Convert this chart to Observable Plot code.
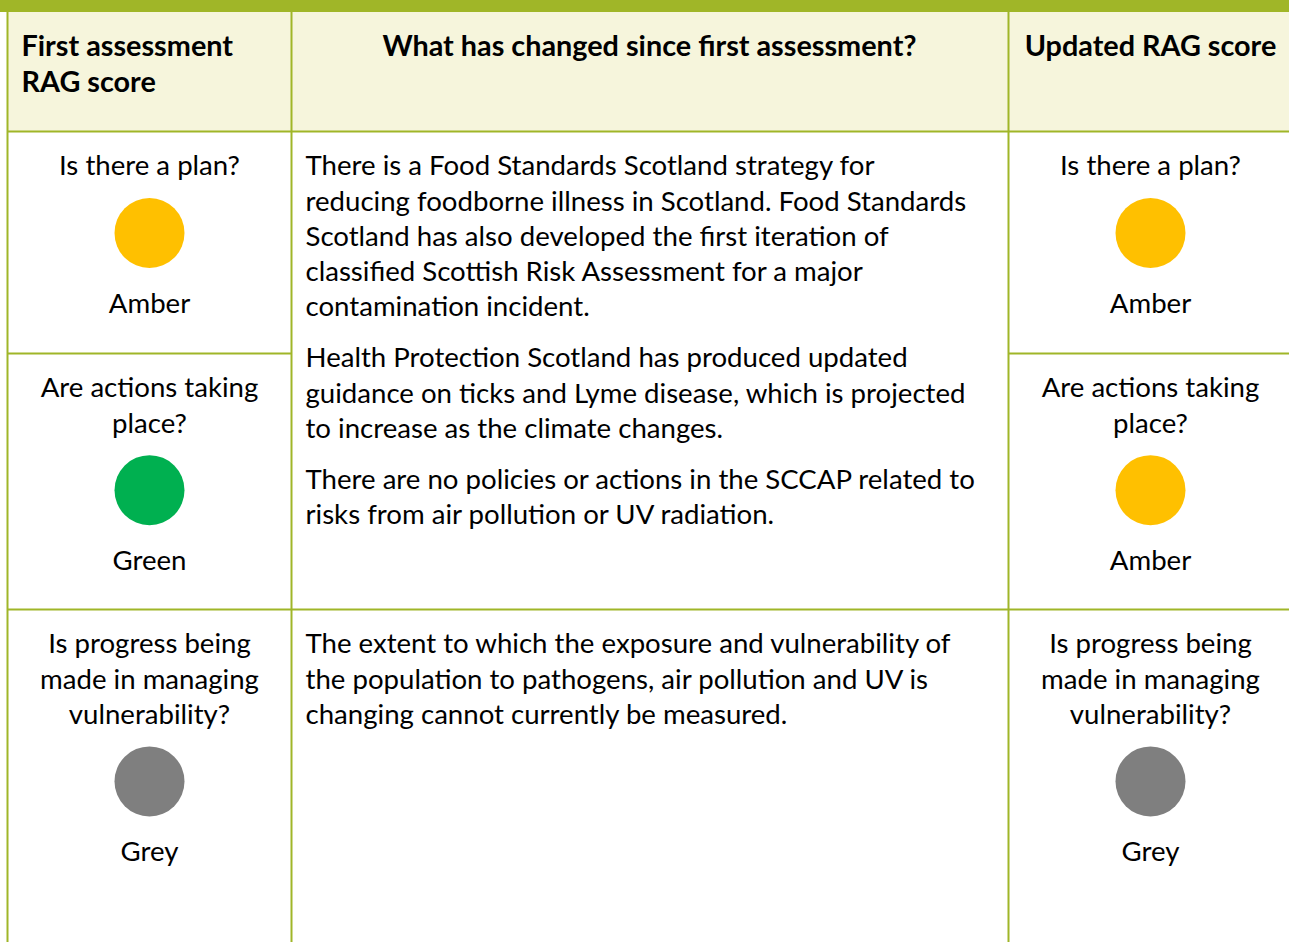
<!DOCTYPE html>
<html><head><meta charset="utf-8">
<script src="https://cdn.jsdelivr.net/npm/d3@7"></script>
<script src="https://cdn.jsdelivr.net/npm/@observablehq/plot@0.6"></script>
<style>body{margin:0;background:#fff}#chart svg{display:block}</style>
</head><body><div id="chart"></div>
<script>
// ---- data ----
const headers = ["First assessment\nRAG score", "What has changed since first assessment?", "Updated RAG score"];
const questions = ["Is there a plan?", "Are actions taking\nplace?", "Is progress being\nmade in managing\nvulnerability?"];
const firstScores = ["Amber", "Green", "Grey"];
const updatedScores = ["Amber", "Amber", "Grey"];
const changesGroup1 = [
  "There is a Food Standards Scotland strategy for\nreducing foodborne illness in Scotland. Food Standards\nScotland has also developed the first iteration of\nclassified Scottish Risk Assessment for a major\ncontamination incident.",
  "Health Protection Scotland has produced updated\nguidance on ticks and Lyme disease, which is projected\nto increase as the climate changes.",
  "There are no policies or actions in the SCCAP related to\nrisks from air pollution or UV radiation."
];
const changesGroup2 = [
  "The extent to which the exposure and vulnerability of\nthe population to pathogens, air pollution and UV is\nchanging cannot currently be measured."
];
const ragColors = {Amber: "#ffc000", Green: "#00b050", Grey: "#7f7f7f"};

// ---- layout ----
const W = 1289, H = 942;
const green = "#a0b628", headerFill = "#f6f5dc";
const colEdges = [7, 291, 1008, 1292];
const rowEdges = [12, 131, 353, 609, H];
const font = "Lato, 'Open Sans', sans-serif";
const fs = 27.6, fsHead = 28.8, lineStep = 35.2, paraGap = 16, topPad = 35;

const leftX = 149;
const rightX = 1150;
const midX = colEdges[1] + 14;

// score cells
const scoreText = [], scoreDots = [];
questions.forEach((q, i) => {
  const top = rowEdges[i + 1];
  const lines = q.split("\n");
  lines.forEach((l, j) => {
    scoreText.push({x: leftX, y: top + topPad + j * lineStep, t: l});
    scoreText.push({x: rightX, y: top + topPad + j * lineStep, t: l});
  });
  const cy = top + topPad + (lines.length - 1) * lineStep + 66.5;
  scoreDots.push({x: leftX, y: cy, c: ragColors[firstScores[i]]});
  scoreDots.push({x: rightX, y: cy, c: ragColors[updatedScores[i]]});
  scoreText.push({x: leftX, y: cy + 71, t: firstScores[i]});
  scoreText.push({x: rightX, y: cy + 71, t: updatedScores[i]});
});

// change text
const midText = [];
[[changesGroup1, rowEdges[1]], [changesGroup2, rowEdges[3]]].forEach(([paras, top]) => {
  let y = top + topPad;
  paras.forEach(p => {
    p.split("\n").forEach(l => { midText.push({x: midX, y, t: l}); y += lineStep; });
    y += paraGap;
  });
});

// header text
const headText = [];
headers[0].split("\n").forEach((l, j) => headText.push({x: colEdges[0] + 14, y: 46 + j * 36, t: l, a: "start"}));
headText.push({x: 649, y: 46, t: headers[1], a: "middle"});
headText.push({x: rightX, y: 46, t: headers[2], a: "middle"});

const vLines = [
  {x: colEdges[0], y1: 0, y2: H},
  {x: colEdges[1], y1: rowEdges[0], y2: H},
  {x: colEdges[2], y1: rowEdges[0], y2: H}
];
const hLines = [
  {y: rowEdges[1], x1: colEdges[0], x2: W},
  {y: rowEdges[2], x1: colEdges[0], x2: colEdges[1]},
  {y: rowEdges[2], x1: colEdges[2], x2: W},
  {y: rowEdges[3], x1: colEdges[0], x2: W}
];

const chart = Plot.plot({
  width: W, height: H,
  margin: 0,
  x: {domain: [0, W], range: [0, W], axis: null},
  y: {domain: [0, H], range: [0, H], axis: null},
  style: {fontFamily: font, background: "#fff"},
  marks: [
    Plot.rect([{x1: colEdges[0], x2: W, y1: rowEdges[0], y2: rowEdges[1]}], {x1: "x1", x2: "x2", y1: "y1", y2: "y2", fill: headerFill}),
    Plot.rect([{x1: 0, x2: W, y1: 0, y2: rowEdges[0]}], {x1: "x1", x2: "x2", y1: "y1", y2: "y2", fill: green}),
    Plot.ruleX(vLines, {x: "x", y1: "y1", y2: "y2", stroke: green, strokeWidth: 2}),
    Plot.ruleY(hLines, {y: "y", x1: "x1", x2: "x2", stroke: green, strokeWidth: 2}),
    Plot.dot(scoreDots, {x: "x", y: "y", r: 35, fill: d => d.c, stroke: null}),
    Plot.text(scoreText, {x: "x", y: "y", text: "t", fontSize: fs, fill: "#000", textAnchor: "middle"}),
    Plot.text(midText, {x: "x", y: "y", text: "t", fontSize: fs, fill: "#000", textAnchor: "start"}),
    Plot.text(headText.filter(d => d.a === "start"), {x: "x", y: "y", text: "t", fontSize: fsHead, fontWeight: "bold", fill: "#000", textAnchor: "start"}),
    Plot.text(headText.filter(d => d.a === "middle"), {x: "x", y: "y", text: "t", fontSize: fsHead, fontWeight: "bold", fill: "#000", textAnchor: "middle"})
  ]
});
document.getElementById("chart").append(chart);
</script>
</body></html>
